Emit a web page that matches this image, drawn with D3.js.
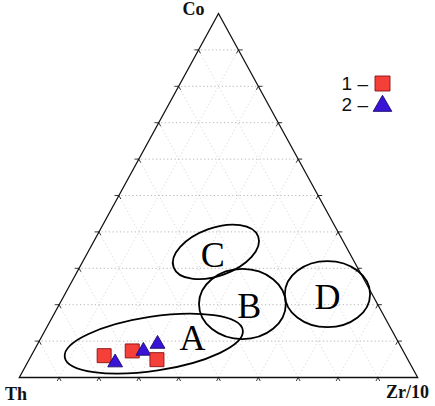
<!DOCTYPE html>
<html>
<head>
<meta charset="utf-8">
<script src="https://cdn.jsdelivr.net/npm/d3@7"></script>
<style>
  body { margin: 0; background: #fff; }
  svg { display: block; }
</style>
</head>
<body>
<svg width="435" height="406"></svg>
<script>

var svg = d3.select("svg");

// ternary corners: Co top, Th bottom-left, Zr/10 bottom-right
var corners = ["Co", "Th", "Zr/10"];
var ticks = d3.range(1, 10).map(function(i){ return i / 10; });

// samples as fractions [Th, Co, Zr/10], drawn in this order
var sampleGroup = [1, 2, 1, 2, 2, 1];
var sampleTh = [0.757, 0.739, 0.680, 0.652, 0.607, 0.630];
var sampleCo = [0.060, 0.041, 0.073, 0.073, 0.092, 0.049];
var sampleZr = [0.183, 0.220, 0.247, 0.275, 0.301, 0.321];

// discrimination fields: centres [Th, Co, Zr/10], half axes in side units, tilt in degrees
var fieldName = ["A", "B", "C", "D"];
var fieldCo = [0.093, 0.202, 0.345, 0.229];
var fieldZr = [0.291, 0.459, 0.321, 0.659];
var fieldRx = [0.226, 0.109, 0.113, 0.107];
var fieldRy = [0.068, 0.088, 0.060, 0.083];
var fieldTilt = [-8.6, 0, -20, 0];
var labelCo = [0.110, 0.198, 0.337, 0.223];
var labelZr = [0.380, 0.478, 0.317, 0.662];

var legendKeys = ["1", "2"];

var xs = d3.scaleLinear().domain([0, 1]).range([19.3, 417.7]);
var ys = d3.scaleLinear().domain([0, 1]).range([377.5, 13.5]);

function pt(co, zr) {
    return [xs(zr + co / 2), ys(co)];
}

var g = svg.append("g");

// grid
var grid = g.append("g");
ticks.forEach(function(t) {
    // constant Co
    var a = pt(t, 0), b = pt(t, 1 - t);
    grid.append("line")
        .attr("x1", a[0] - 5).attr("y1", a[1])
        .attr("x2", b[0] + 5).attr("y2", b[1])
        .style("stroke", "#b4b4b4").style("stroke-dasharray", "1.2,2.5");
    // constant Zr
    var c = pt(0, t), d = pt(1 - t, t);
    grid.append("line")
        .attr("x1", c[0]).attr("y1", c[1])
        .attr("x2", d[0]).attr("y2", d[1])
        .style("stroke", "#dadada").style("stroke-dasharray", "1.2,2.5");
    // constant Th
    var e = pt(0, 1 - t), f = pt(1 - t, 0);
    grid.append("line")
        .attr("x1", e[0]).attr("y1", e[1])
        .attr("x2", f[0]).attr("y2", f[1])
        .style("stroke", "#dadada").style("stroke-dasharray", "1.2,2.5");
});

// outward tick marks: short extensions of the grid lines
var tk = g.append("g").style("stroke", "#222").style("stroke-width", 0.9);
var L = 4;
function tickAt(p, dirs) {
    dirs.forEach(function(dv) {
        tk.append("line")
            .attr("x1", p[0]).attr("y1", p[1])
            .attr("x2", p[0] + dv[0] * L).attr("y2", p[1] + dv[1] * L);
    });
}
var sideL = [pt(1, 0)[0] - pt(0, 0)[0], pt(1, 0)[1] - pt(0, 0)[1]];
var sideR = [pt(1, 0)[0] - pt(0, 1)[0], pt(1, 0)[1] - pt(0, 1)[1]];
function unit(v) { var n = Math.hypot(v[0], v[1]); return [v[0] / n, v[1] / n]; }
var uL = unit(sideL), uR = unit(sideR);
ticks.forEach(function(t) {
    tickAt(pt(0, t), [[-uL[0], -uL[1]], [-uR[0], -uR[1]]]);
    tickAt(pt(t, 0), [[-1, 0], [-uR[0], -uR[1]]]);
    tickAt(pt(t, 1 - t), [[1, 0], [-uL[0], -uL[1]]]);
});

// triangle frame
var frame = [pt(1, 0), pt(0, 0), pt(0, 1)];
g.append("path")
    .attr("d", d3.line()(frame) + "Z")
    .style("fill", "none")
    .style("stroke", "#111")
    .style("stroke-width", 1.3);

// corner labels
var cornerPos = [[pt(1, 0)[0] - 36, 15], [5, 400], [386, 398]];
g.selectAll(".corner")
    .data(corners)
    .enter()
    .append("text")
    .attr("class", "corner")
    .attr("x", function(d, i){ return cornerPos[i][0]; })
    .attr("y", function(d, i){ return cornerPos[i][1]; })
    .text(function(d){ return d; })
    .style("font-family", "Liberation Serif, serif")
    .style("font-weight", "bold")
    .style("font-size", "18px")
    .style("fill", "#111");

// fields
fieldName.forEach(function(n, i) {
    var c = pt(fieldCo[i], fieldZr[i]);
    g.append("ellipse")
        .attr("cx", 0).attr("cy", 0)
        .attr("rx", xs(fieldRx[i]) - xs(0))
        .attr("ry", xs(fieldRy[i]) - xs(0))
        .attr("transform", "translate(" + c[0] + "," + c[1] + ") rotate(" + fieldTilt[i] + ")")
        .style("fill", "none")
        .style("stroke", "#000")
        .style("stroke-width", 1.8);
    var lp = pt(labelCo[i], labelZr[i]);
    g.append("text")
        .attr("x", lp[0])
        .attr("y", lp[1] + 12.5)
        .attr("text-anchor", "middle")
        .text(n)
        .style("font-family", "Liberation Serif, serif")
        .style("font-size", "36px")
        .style("fill", "#000");
});

var sym = d3.scaleOrdinal().domain([1, 2]).range([d3.symbolSquare, d3.symbolTriangle]);
var fill = d3.scaleOrdinal().domain([1, 2]).range(["#f5403a", "#3a14d6"]);
var edge = d3.scaleOrdinal().domain([1, 2]).range(["#8a1010", "#1a0a6a"]);
var area = d3.scaleOrdinal().domain([1, 2]).range([196, 95]);

g.selectAll(".sample")
    .data(sampleGroup)
    .enter()
    .append("path")
    .attr("class", "sample")
    .attr("d", function(d){ return d3.symbol().type(sym(d)).size(area(d))(); })
    .attr("transform", function(d, i) {
        var p = pt(sampleCo[i], sampleZr[i]);
        return "translate(" + p[0] + "," + p[1] + ")";
    })
    .style("fill", function(d){ return fill(d); })
    .style("stroke", function(d){ return edge(d); })
    .style("stroke-width", 0.9);

// legend
var lg = svg.append("g");
legendKeys.forEach(function(k, i) {
    var y = 90 + i * 21;
    lg.append("text")
        .attr("x", 368).attr("y", y)
        .attr("text-anchor", "end")
        .text(k + " \u2013")
        .style("font-family", "Liberation Sans, Arial, sans-serif")
        .style("font-size", "19px")
        .style("fill", "#111");
    lg.append("path")
        .attr("d", d3.symbol().type(sym(+k)).size(i ? 150 : 225)())
        .attr("transform", "translate(382.5," + (y - 6.5 + (i ? 1.5 : 0)) + ")")
        .style("fill", fill(+k))
        .style("stroke", edge(+k))
        .style("stroke-width", 0.9);
});

</script>
</body>
</html>
